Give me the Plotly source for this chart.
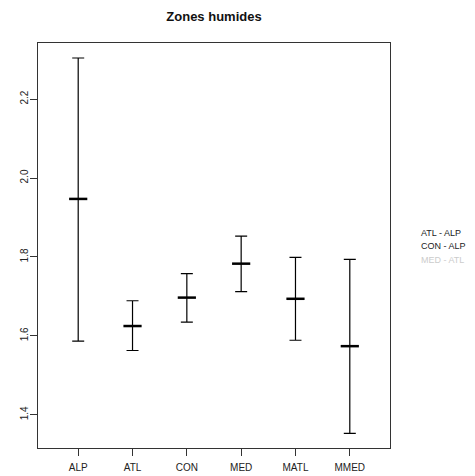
import plotly.graph_objects as go

# regions and interval estimates
regions = ["ALP", "ATL", "CON", "MED", "MATL", "MMED"]
means = [1.947, 1.625, 1.697, 1.783, 1.694, 1.574]
lower = [1.587, 1.563, 1.635, 1.712, 1.589, 1.353]
upper = [2.304, 1.689, 1.758, 1.853, 1.799, 1.794]

legend_labels = ["ATL - ALP", "CON - ALP", "MED - ATL"]
legend_colors = ["#222222", "#222222", "#cccccc"]

y_ticks = [1.4, 1.6, 1.8, 2.0, 2.2]

xpos = list(range(1, len(regions) + 1))
err_plus = [u - m for u, m in zip(upper, means)]
err_minus = [m - l for m, l in zip(means, lower)]

# the page body has an 8px margin, so the figure is a bit smaller than the window
W, H = 467, 468

fig = go.Figure()
fig.add_trace(go.Scatter(
    x=xpos, y=means, mode="markers",
    marker=dict(symbol="line-ew", size=13, line=dict(color="black", width=2.5)),
    error_y=dict(type="data", symmetric=False, array=err_plus, arrayminus=err_minus,
                 color="black", thickness=1.2, width=6),
    showlegend=False, hoverinfo="skip",
))

# legend text placed outside the plot, like R's legend(xpd=TRUE)
leg_y = [0.531, 0.498, 0.464]
for lab, col, yy in zip(legend_labels, legend_colors, leg_y):
    fig.add_annotation(x=1.082, y=yy, xref="paper", yref="paper", text=lab,
                       showarrow=False, xanchor="left", yanchor="middle",
                       font=dict(size=9, color=col))

fig.update_layout(
    width=W, height=H,
    margin=dict(l=30, r=85, t=35, b=28),
    paper_bgcolor="white", plot_bgcolor="white",
    font=dict(family="Liberation Sans, Arial, sans-serif", color="#222222", size=10),
    title=dict(text="<b>Zones humides</b>", x=206 / W, xanchor="center",
               y=1 - 8 / H, yanchor="middle", font=dict(size=13, color="#111111")),
)
fig.update_xaxes(range=[0.26, 6.74], tickvals=xpos, ticktext=regions,
                 showgrid=False, zeroline=False, showline=True, linecolor="#333333",
                 linewidth=1.2, mirror=True, ticks="outside", ticklen=7,
                 tickcolor="#333333", tickfont=dict(size=10),
                 ticklabelstandoff=3, automargin=False)
fig.update_yaxes(range=[1.316, 2.342], tickvals=y_ticks,
                 ticktext=[f"{v:.1f}" for v in y_ticks], tickangle=-90,
                 showgrid=False, zeroline=False, showline=True, linecolor="#333333",
                 linewidth=1.2, mirror=True, ticks="outside", ticklen=7,
                 tickcolor="#333333", tickfont=dict(size=10),
                 ticklabelstandoff=-2, automargin=False)

fig.write_html("out.html")
